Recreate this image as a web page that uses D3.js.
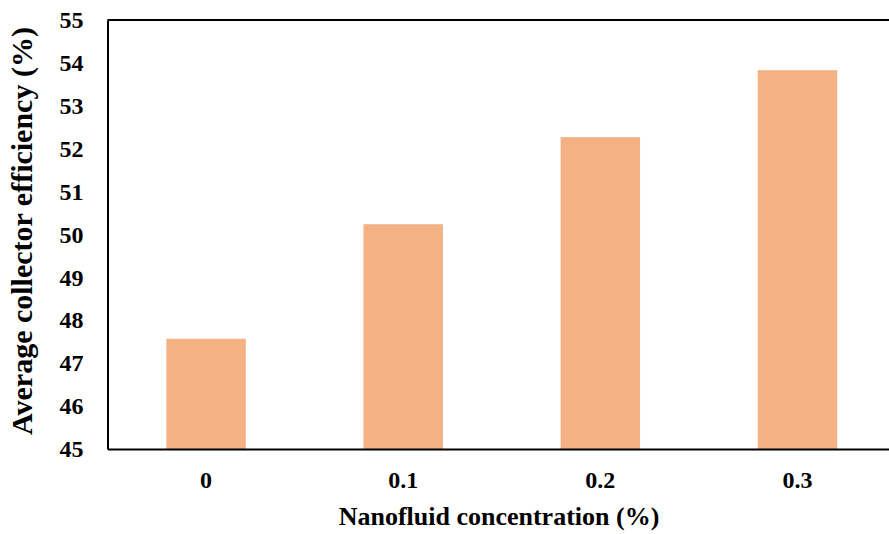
<!DOCTYPE html>
<html>
<head>
<meta charset="utf-8">
<script src="https://cdn.jsdelivr.net/npm/d3@7"></script>
<style>
  body { margin: 0; background: #fff; }
  text { font-family: "Liberation Serif", "Times New Roman", serif; font-weight: bold; }
</style>
</head>
<body>
<div id="container"></div>
<script>
let categories = ["0", "0.1", "0.2", "0.3"];
let efficiency = [47.57, 50.24, 52.27, 53.83];
let yTicks = [45, 46, 47, 48, 49, 50, 51, 52, 53, 54, 55];

let w = 889;
let h = 534;
let plotLeft = 107.5, plotRight = 896, plotTop = 20, plotBottom = 449;

let viz = d3.select("#container")
  .append("svg")
    .attr("width", w)
    .attr("height", h)
    .style("background-color", "white")
;

let xScale = d3.scaleBand().domain(categories).range([plotLeft, plotRight]).paddingInner(0.597).paddingOuter(0.2985);
let yScale = d3.scaleLinear().domain([45, 55]).range([plotBottom, plotTop]);

// bars
viz.selectAll(".bar").data(efficiency).enter()
  .append("rect")
    .attr("class", "bar")
    .attr("x", (d, i) => xScale(categories[i]))
    .attr("y", d => yScale(d))
    .attr("width", xScale.bandwidth())
    .attr("height", d => yScale(45) - yScale(d))
    .attr("fill", "#F4B183")
;

// frame line on top
viz.append("line").attr("x1", plotLeft).attr("x2", w).attr("y1", plotTop).attr("y2", plotTop)
  .attr("stroke", "black").attr("stroke-width", 2);

let yAxis = viz.append("g")
  .attr("transform", "translate(" + plotLeft + ",0)")
  .call(d3.axisLeft(yScale).tickValues(yTicks).tickSize(0).tickPadding(24).tickFormat(d3.format("d")));
yAxis.select(".domain").attr("stroke", "black").attr("stroke-width", 2);
yAxis.selectAll("text").style("font-size", "24px").attr("fill", "black");

let xAxis = viz.append("g")
  .attr("transform", "translate(0," + plotBottom + ")")
  .call(d3.axisBottom(xScale).tickSize(0).tickPadding(22));
xAxis.select(".domain").attr("stroke", "black").attr("stroke-width", 2);
xAxis.selectAll("text").style("font-size", "24px").attr("fill", "black");

viz.append("text")
  .text("Nanofluid concentration (%)")
  .attr("x", 499)
  .attr("y", 525)
  .attr("text-anchor", "middle")
  .style("font-size", "26px")
;

viz.append("text")
  .text("Average collector efficiency (%)")
  .attr("transform", "translate(32,231) rotate(-90)")
  .attr("text-anchor", "middle")
  .style("font-size", "30px")
;
</script>
</body>
</html>
